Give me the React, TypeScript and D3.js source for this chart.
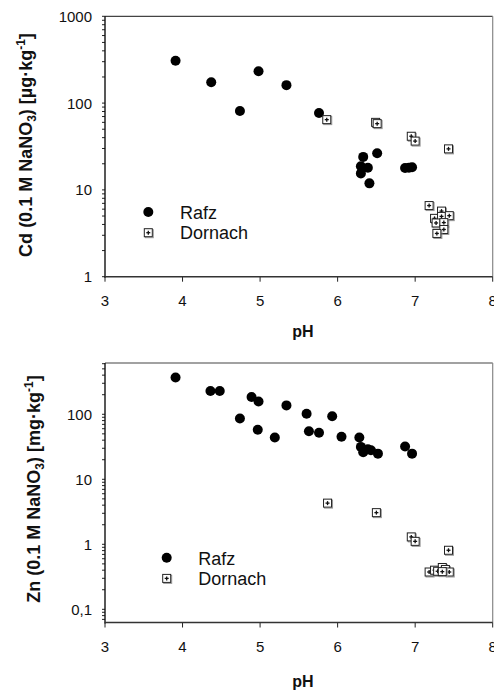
import React from "react";
import * as d3 from "d3";

// ---- Data ----
const cdRafzPH = [3.91, 4.37, 4.74, 4.98, 5.34, 5.76, 6.33, 6.51, 6.30, 6.39, 6.30, 6.41, 6.87, 6.92, 6.96];
const cdRafz = [307, 174, 81, 233, 161, 77, 24, 26.5, 18.7, 18.0, 15.5, 11.9, 17.9, 18.0, 18.2];

const cdDornachPH = [5.86, 6.49, 6.51, 6.95, 7.0, 7.43, 7.18, 7.34, 7.25, 7.34, 7.44, 7.27, 7.37, 7.37, 7.28];
const cdDornach = [64.5, 60, 58, 41.5, 36.5, 29.7, 6.6, 5.7, 4.7, 4.95, 5.05, 4.16, 4.2, 3.5, 3.15];

const znRafzPH = [3.91, 4.36, 4.48, 4.74, 4.89, 4.98, 4.97, 5.19, 5.34, 5.6, 5.63, 5.76, 5.93, 6.05, 6.28, 6.3, 6.33, 6.39, 6.43, 6.52, 6.87, 6.96];
const znRafz = [367, 228, 228, 86, 184, 157, 58, 44, 137, 102, 55, 52, 93, 45, 44, 31.5, 26, 29, 28, 24.8, 32, 24.8];

const znDornachPH = [5.87, 6.5, 6.95, 7.0, 7.43, 7.18, 7.25, 7.29, 7.35, 7.39, 7.44, 7.35];
const znDornach = [4.3, 3.07, 1.3, 1.11, 0.81, 0.375, 0.4, 0.385, 0.44, 0.41, 0.375, 0.38];

const xTicks = [3, 4, 5, 6, 7, 8];
const cdTickValues = [1, 10, 100, 1000];
const cdTickLabels = ["1", "10", "100", "1000"];
const znTickValues = [0.1, 1, 10, 100];
const znTickLabels = ["0,1", "1", "10", "100"];
const seriesNames = ["Rafz", "Dornach"];

const FONT = "'Liberation Sans', Arial, Helvetica, sans-serif";

function minorTicks(domain: [number, number]) {
  const out: number[] = [];
  const lo = Math.floor(Math.log10(domain[0]));
  const hi = Math.ceil(Math.log10(domain[1]));
  for (let e = lo; e <= hi; e++) {
    for (let m = 1; m <= 9; m++) {
      const v = m * Math.pow(10, e);
      if (v >= domain[0] * 0.999 && v <= domain[1] * 1.001) out.push(v);
    }
  }
  return out;
}

function SquareMark({ x, y }: { x: number; y: number }) {
  return (
    <g>
      <rect x={x - 3} y={y - 3} width={8} height={8} fill="none" stroke="#999" strokeWidth={1} />
      <rect x={x - 4} y={y - 4} width={8} height={8} fill="#fff" stroke="#222" strokeWidth={1} />
      <line x1={x - 2} x2={x + 2} y1={y} y2={y} stroke="#111" strokeWidth={1.3} />
      <line x1={x} x2={x} y1={y - 2} y2={y + 2} stroke="#111" strokeWidth={1.3} />
    </g>
  );
}

type PanelProps = {
  left: number; right: number; top: number; bottom: number;
  yDomain: [number, number];
  yTickValues: number[]; yTickLabels: string[];
  rafzX: number[]; rafzY: number[];
  dornX: number[]; dornY: number[];
  element: string; unit: string;
  titleX: number; titleY: number;
  pHY: number;
  legendX: number; legendY: number; legendTextX: number;
};

function Panel(p: PanelProps) {
  const x = d3.scaleLinear().domain([3, 8]).range([p.left, p.right]);
  const y = d3.scaleLog().domain(p.yDomain).range([p.bottom, p.top]);
  const minors = minorTicks(p.yDomain);
  return (
    <g fontFamily={FONT}>
      {/* frame */}
      <line x1={p.left} x2={p.right} y1={p.top} y2={p.top} stroke="#444" strokeWidth={1.2} />
      <line x1={p.right} x2={p.right} y1={p.top} y2={p.bottom} stroke="#888" strokeWidth={1.2} />
      {/* y minor/major ticks */}
      {minors.map((v, i) => (
        <line key={"m" + i} x1={p.left - 3} x2={p.left} y1={y(v)} y2={y(v)} stroke="#222" strokeWidth={1} />
      ))}
      {p.yTickValues.map((v, i) => (
        <text key={"yl" + i} x={p.left - 13} y={y(v) + 5.5} textAnchor="end" fontSize={15} fill="#111">
          {p.yTickLabels[i]}
        </text>
      ))}
      {/* x ticks */}
      {xTicks.map((v) => (
        <g key={"x" + v}>
          <line x1={x(v)} x2={x(v)} y1={p.bottom} y2={p.bottom + 5} stroke="#222" strokeWidth={1} />
          <text x={x(v)} y={p.bottom + 29.5} textAnchor="middle" fontSize={15} fill="#111">{v}</text>
        </g>
      ))}
      {/* axes */}
      <line x1={p.left} x2={p.left} y1={p.top} y2={p.bottom + 1} stroke="#111" strokeWidth={1.4} />
      <line x1={p.left} x2={p.right} y1={p.bottom} y2={p.bottom} stroke="#333" strokeWidth={1.4} />
      {/* data */}
      {p.rafzX.map((v, i) => (
        <circle key={"r" + i} cx={x(v)} cy={y(p.rafzY[i])} r={5} fill="#000" />
      ))}
      {p.dornX.map((v, i) => (
        <SquareMark key={"d" + i} x={x(v)} y={y(p.dornY[i])} />
      ))}
      {/* legend */}
      <circle cx={p.legendX} cy={p.legendY} r={5} fill="#000" />
      <text x={p.legendTextX} y={p.legendY + 7.3} fontSize={18} fill="#111">{seriesNames[0]}</text>
      <SquareMark x={p.legendX} y={p.legendY + 20.7} />
      <text x={p.legendTextX} y={p.legendY + 27.2} fontSize={18} fill="#111">{seriesNames[1]}</text>
      {/* axis titles */}
      <text x={303} y={p.pHY} textAnchor="middle" fontSize={16} fontWeight="bold" fill="#111">pH</text>
      <text
        transform={`translate(${p.titleX},${p.titleY}) rotate(-90)`}
        textAnchor="middle" fontSize={18} fontWeight="bold" fill="#111"
      >
        {p.element} (0.1 M NaNO<tspan fontSize={12} dy={4}>3</tspan>
        <tspan dy={-4}>) [{p.unit}·kg</tspan>
        <tspan fontSize={12} dy={-7}>-1</tspan>
        <tspan dy={7}>]</tspan>
      </text>
    </g>
  );
}

export default function App() {
  return (
    <svg width={494} height={692} style={{ position: "absolute", left: 0, top: 0, background: "#fff" }}>
      <rect width={494} height={692} fill="#fff" />
      <Panel
        left={105} right={492.7} top={16.3} bottom={276.7}
        yDomain={[1, 1000]} yTickValues={cdTickValues} yTickLabels={cdTickLabels}
        rafzX={cdRafzPH} rafzY={cdRafz} dornX={cdDornachPH} dornY={cdDornach}
        element="Cd" unit="µg"
        titleX={31.5} titleY={145} pHY={337}
        legendX={148.3} legendY={212} legendTextX={180}
      />
      <Panel
        left={105} right={492.7} top={363} bottom={622.5}
        yDomain={[0.0627, 615]} yTickValues={znTickValues} yTickLabels={znTickLabels}
        rafzX={znRafzPH} rafzY={znRafz} dornX={znDornachPH} dornY={znDornach}
        element="Zn" unit="mg"
        titleX={40} titleY={489} pHY={686.5}
        legendX={166.7} legendY={557.7} legendTextX={198.3}
      />
    </svg>
  );
}
